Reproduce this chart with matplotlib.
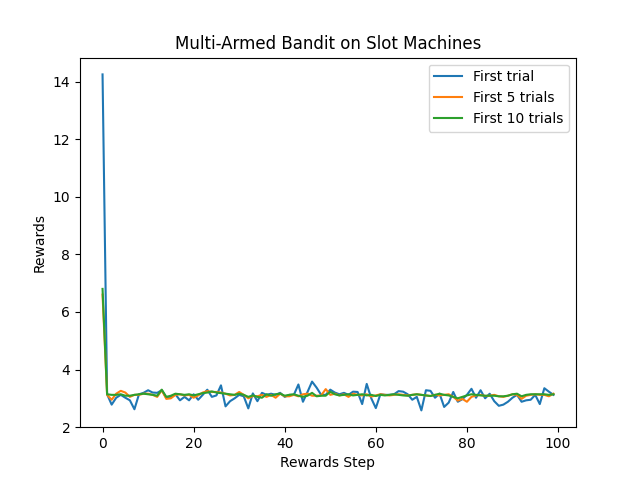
import numpy as np
import matplotlib
matplotlib.use('Agg')
import matplotlib.pyplot as plt

# rewards per step
first_trial = [
    14.25, 3.14, 2.78, 3.02, 3.12, 3.02, 2.93, 2.62, 3.14, 3.19,
    3.28, 3.20, 3.19, 3.28, 3.02, 3.05, 3.14, 2.93, 3.05, 2.93,
    3.14, 2.95, 3.12, 3.30, 3.05, 3.10, 3.45, 2.72, 2.90, 3.00,
    3.12, 3.07, 2.65, 3.17, 2.90, 3.19, 3.12, 3.16, 3.12, 3.19,
    3.05, 3.12, 3.12, 3.48, 2.88, 3.22, 3.58, 3.37, 3.12, 3.12,
    3.30, 3.20, 3.14, 3.19, 3.12, 3.23, 3.22, 2.80, 3.50, 3.00,
    2.66, 3.14, 3.12, 3.12, 3.14, 3.25, 3.23, 3.14, 2.95, 3.05,
    2.58, 3.28, 3.26, 3.02, 3.16, 2.70, 2.85, 3.22, 2.88, 2.97,
    3.12, 3.33, 3.02, 3.28, 3.00, 3.16, 2.90, 2.74, 2.78, 2.88,
    3.02, 3.12, 2.88, 2.93, 2.95, 3.12, 2.80, 3.35, 3.23, 3.12,
]
first_5 = [
    6.60, 3.12, 2.95, 3.16, 3.26, 3.20, 3.05, 3.12, 3.12, 3.16,
    3.16, 3.12, 3.05, 3.28, 2.98, 3.00, 3.12, 3.14, 3.10, 3.12,
    3.02, 3.10, 3.20, 3.25, 3.22, 3.22, 3.20, 3.16, 3.10, 3.12,
    3.22, 3.12, 3.00, 3.08, 3.07, 3.12, 3.05, 3.12, 3.02, 3.16,
    3.07, 3.07, 3.12, 3.07, 3.14, 3.16, 3.09, 3.09, 3.10, 3.32,
    3.12, 3.16, 3.10, 3.14, 3.05, 3.16, 3.12, 3.10, 3.14, 3.06,
    3.10, 3.14, 3.12, 3.10, 3.12, 3.14, 3.12, 3.10, 3.12, 3.14,
    3.12, 3.10, 3.08, 3.12, 3.10, 3.12, 3.14, 3.05, 2.92, 2.98,
    2.88, 3.05, 3.10, 3.12, 3.08, 3.09, 3.12, 3.07, 3.05, 3.09,
    3.14, 3.12, 2.98, 3.09, 3.12, 3.14, 3.12, 3.12, 3.07, 3.16,
]
first_10 = [
    6.80, 3.14, 3.12, 3.12, 3.14, 3.09, 3.09, 3.12, 3.14, 3.16,
    3.14, 3.12, 3.09, 3.30, 3.05, 3.09, 3.16, 3.14, 3.12, 3.14,
    3.10, 3.14, 3.18, 3.20, 3.24, 3.20, 3.18, 3.16, 3.14, 3.12,
    3.16, 3.12, 3.05, 3.10, 3.05, 3.02, 3.14, 3.09, 3.14, 3.16,
    3.09, 3.12, 3.14, 3.09, 3.05, 3.09, 3.19, 3.07, 3.09, 3.09,
    3.23, 3.14, 3.10, 3.12, 3.14, 3.10, 3.12, 3.14, 3.10, 3.12,
    3.08, 3.12, 3.10, 3.12, 3.14, 3.12, 3.10, 3.09, 3.12, 3.14,
    3.12, 3.10, 3.08, 3.12, 3.16, 3.12, 3.10, 3.05, 3.00, 3.05,
    3.10, 3.14, 3.12, 3.10, 3.09, 3.09, 3.09, 3.07, 3.07, 3.09,
    3.14, 3.16, 3.07, 3.12, 3.14, 3.14, 3.14, 3.14, 3.12, 3.14,
]
steps = np.arange(len(first_trial))

fig, ax = plt.subplots(figsize=(6.4, 4.8), dpi=100)
ax.plot(steps, first_trial, label='First trial')
ax.plot(steps, first_5, label='First 5 trials')
ax.plot(steps, first_10, label='First 10 trials')
ax.set_title('Multi-Armed Bandit on Slot Machines')
ax.set_xlabel('Rewards Step')
ax.set_ylabel('Rewards')
ax.legend(loc='upper right')
fig.savefig('out.png', dpi=100)
